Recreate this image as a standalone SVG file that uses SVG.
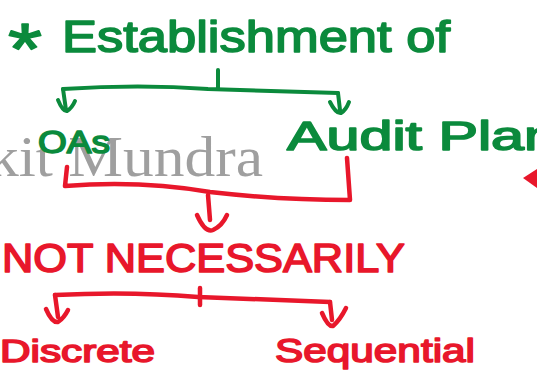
<svg xmlns="http://www.w3.org/2000/svg" width="537" height="376" viewBox="0 0 537 376">
<style>
.g{fill:#0b8a3c;stroke:#0b8a3c;stroke-width:1.6;stroke-linejoin:round;font-family:"Liberation Sans",Arial,sans-serif}
.r{fill:#e8172b;stroke:#e8172b;stroke-width:1.6;stroke-linejoin:round;font-family:"Liberation Sans",Arial,sans-serif}
.cg{fill:none;stroke:#0b8a3c;stroke-width:4;stroke-linecap:round;stroke-linejoin:round}
.cr{fill:none;stroke:#e8172b;stroke-width:4.5;stroke-linecap:round;stroke-linejoin:round}
.wm{fill:#8f8f8f;opacity:0.85;font-family:"Liberation Serif","Times New Roman",serif}
</style>
<rect width="537" height="376" fill="#ffffff"/>
<g id="watermark">
<text class="wm" x="-12" y="176" font-size="57" textLength="275" lengthAdjust="spacingAndGlyphs">kit Mundra</text>
</g>
<g id="node-title">
<text class="g" x="8" y="74" font-size="72" textLength="34" lengthAdjust="spacingAndGlyphs">*</text>
<text class="g" x="62" y="52" font-size="44" textLength="388" lengthAdjust="spacingAndGlyphs">Establishment of</text>
</g>
<g id="node-oas">
<text class="g" x="38" y="153" font-size="31" textLength="72" lengthAdjust="spacingAndGlyphs">OAs</text>
</g>
<g id="node-auditplan">
<text class="g" x="287" y="150" font-size="40" textLength="270" lengthAdjust="spacingAndGlyphs">Audit Plan</text>
</g>
<g id="node-notnecessarily">
<text class="r" x="2" y="272" font-size="40" textLength="403" lengthAdjust="spacingAndGlyphs">NOT NECESSARILY</text>
</g>
<g id="node-discrete">
<text class="r" x="0" y="362" font-size="31" textLength="155" lengthAdjust="spacingAndGlyphs">Discrete</text>
</g>
<g id="node-sequential">
<text class="r" x="275" y="362" font-size="34" textLength="200" lengthAdjust="spacingAndGlyphs">Sequential</text>
</g>
<g id="connectors">
<path class="cg" d="M218,70 L218,88"/>
<path class="cg" d="M63,89 Q140,84 208,89 L338,93"/>
<path class="cg" d="M63,89 L66,110 M58,100 Q63,112 67,111 Q72,108 75,101"/>
<path class="cg" d="M338,93 L340,110 M330,102 Q336,114 341,113 Q346,110 349,102"/>
<path class="cr" d="M67,167 L65,186 Q140,180 210,192 Q280,200 350,200 L347,158"/>
<path class="cr" d="M208,195 L210,220 M197,215 Q205,233 213,230 Q222,226 227,215"/>
<path class="cr" d="M200,288 L200,305"/>
<path class="cr" d="M55,295 Q130,291 198,297 L330,302"/>
<path class="cr" d="M55,295 L58,317 M46,309 Q52,323 58,322 Q64,318 68,310"/>
<path class="cr" d="M330,302 L332,320 M322,313 Q328,327 333,326 Q340,320 346,308"/>
<polygon points="523,178 537,169 537,188" fill="#e8172b"/>
</g>
</svg>
